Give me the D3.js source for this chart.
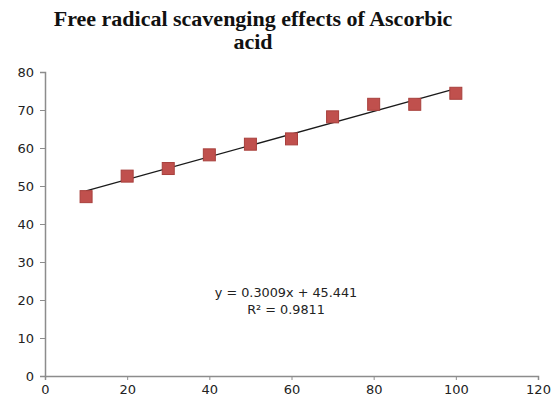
<!DOCTYPE html>
<html>
<head>
<script src="https://d3js.org/d3.v7.min.js"></script>
<style>
body {margin: 0; background-color: #fff;}
</style>
</head>
<body style="overflow: hidden;">
<div id="canvas"></div>
<script type="text/javascript">

var concentration = [10, 20, 30, 40, 50, 60, 70, 80, 90, 100];
var scavenging = [47.2, 52.6, 54.6, 58.2, 61.0, 62.4, 68.2, 71.5, 71.5, 74.4];
var xTicks = [0, 20, 40, 60, 80, 100, 120];
var yTicks = [0, 10, 20, 30, 40, 50, 60, 70, 80];
var titleLines = ["Free radical scavenging effects of Ascorbic", "acid"];
var equationLines = ["y = 0.3009x + 45.441", "R² = 0.9811"];

var width = 553, height = 400;

var svg = d3.select("#canvas").append("svg")
    .attr("width", width)
    .attr("height", height);

var x = d3.scaleLinear().domain([0, 120]).range([45, 538]);
var y = d3.scaleLinear().domain([0, 80]).range([376, 72]);

// title
svg.selectAll("text.title")
    .data(titleLines)
    .enter().append("text")
    .attr("class", "title")
    .attr("x", 253)
    .attr("y", function (d, i) { return 26 + i * 23; })
    .attr("text-anchor", "middle")
    .attr("font-family", "Liberation Serif")
    .attr("font-weight", "bold")
    .attr("font-size", "22px")
    .attr("fill", "#111")
    .text(function (d) { return d; });

// axes
var xAxis = svg.append("g")
    .attr("transform", "translate(0," + y(0) + ")")
    .call(d3.axisBottom(x).tickValues(xTicks).tickSize(4).tickPadding(5));
var yAxis = svg.append("g")
    .attr("transform", "translate(" + x(0) + ",0)")
    .call(d3.axisLeft(y).tickValues(yTicks).tickSize(5).tickPadding(8));

[xAxis, yAxis].forEach(function (a) {
    a.select(".domain").attr("stroke", "#8c8c8c").attr("stroke-width", 1.5);
    a.selectAll(".tick line").attr("stroke", "#8c8c8c");
    a.selectAll(".tick text")
        .attr("font-family", "DejaVu Sans")
        .attr("font-size", "13px")
        .attr("fill", "#222");
});
yAxis.selectAll(".tick text").attr("x", -11);
xAxis.selectAll(".tick text").attr("dy", "0.72em");

// least squares trend line
var n = concentration.length;
var mx = d3.mean(concentration), my = d3.mean(scavenging);
var sxy = 0, sxx = 0;
for (var i = 0; i < n; i++) {
    sxy += (concentration[i] - mx) * (scavenging[i] - my);
    sxx += (concentration[i] - mx) * (concentration[i] - mx);
}
var slope = sxy / sxx, icept = my - slope * mx;
var x0 = d3.min(concentration), x1 = d3.max(concentration);

svg.append("line")
    .attr("x1", x(x0))
    .attr("y1", y(slope * x0 + icept))
    .attr("x2", x(x1))
    .attr("y2", y(slope * x1 + icept))
    .attr("stroke", "#1a1a1a")
    .attr("stroke-width", 1.3);

// markers
var s = 12;
svg.selectAll("rect.pt")
    .data(concentration)
    .enter().append("rect")
    .attr("class", "pt")
    .attr("x", function (d) { return x(d) - s / 2; })
    .attr("y", function (d, i) { return y(scavenging[i]) - s / 2; })
    .attr("width", s)
    .attr("height", s)
    .attr("fill", "#c0504d")
    .attr("stroke", "#a8403d")
    .attr("stroke-width", 1);

// equation
svg.selectAll("text.eq")
    .data(equationLines)
    .enter().append("text")
    .attr("class", "eq")
    .attr("x", 286)
    .attr("y", function (d, i) { return 297 + i * 17; })
    .attr("text-anchor", "middle")
    .attr("font-family", "DejaVu Sans")
    .attr("font-size", "12.8px")
    .attr("fill", "#222")
    .text(function (d) { return d; });

</script>
</body>
</html>
